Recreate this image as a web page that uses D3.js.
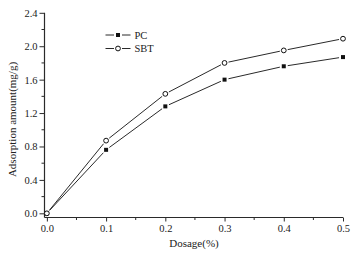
<!DOCTYPE html>
<html><head><meta charset="utf-8">
<script src="https://cdn.jsdelivr.net/npm/d3@7"></script>
<style>body{margin:0;background:#fff}svg{display:block}text{font-family:"Liberation Serif","Times New Roman",serif;fill:#222}</style>
</head><body><svg id="c" width="361" height="258"></svg>
<script>
const dosage = [0, 0.1, 0.2, 0.3, 0.4, 0.5];
const pcValues = [0, 0.76, 1.28, 1.60, 1.76, 1.87];
const sbtValues = [0, 0.87, 1.43, 1.80, 1.95, 2.09];
const xTicks = [0, 0.1, 0.2, 0.3, 0.4, 0.5];
const yTicks = [0, 0.4, 0.8, 1.2, 1.6, 2.0, 2.4];
const xMinor = [0.05, 0.15, 0.25, 0.35, 0.45];
const yMinor = [0.2, 0.6, 1.0, 1.4, 1.8, 2.2];
const seriesNames = ["PC", "SBT"];

const svg = d3.select("#c");
const x = d3.scaleLinear().domain([-0.004, 0.5]).range([44.5, 343]);
const y = d3.scaleLinear().domain([-0.05, 2.4]).range([217.5, 12.8]);
const col = "#2a2a2a";

// axes
const gx = svg.append("g").attr("transform", "translate(0,217.5)")
  .call(d3.axisBottom(x).tickValues(xTicks).tickFormat(d3.format(".1f")).tickSize(4).tickPadding(3).tickSizeOuter(0));
gx.append("g").selectAll("line").data(xMinor).join("line")
  .attr("x1", d => x(d)).attr("x2", d => x(d)).attr("y1", 0).attr("y2", 2.5).attr("stroke", col);
const gy = svg.append("g").attr("transform", "translate(44.5,0)")
  .call(d3.axisLeft(y).tickValues(yTicks).tickFormat(d3.format(".1f")).tickSize(5).tickPadding(2).tickSizeOuter(0));
gy.append("g").selectAll("line").data(yMinor).join("line")
  .attr("y1", d => y(d)).attr("y2", d => y(d)).attr("x1", 0).attr("x2", -3).attr("stroke", col);
svg.selectAll(".domain").attr("stroke", col).attr("stroke-width", 1.2);
svg.selectAll(".tick line").attr("stroke", col);
svg.selectAll(".tick text").style("font-size", "10.5px").style("font-family", '"Liberation Serif",serif').attr("fill", "#222");
// fix x domain line to extend to the y axis
gx.select(".domain").attr("d", `M${44.5},0H${x(0.5)}`);
gy.select(".domain").attr("d", `M0,${217.5}V${y(2.4)}`);

// lines with gaps near markers
function drawSeries(vals, marker) {
  const pts = dosage.map((d, i) => [x(d), y(vals[i])]);
  const gap = 4;
  for (let i = 0; i < pts.length - 1; i++) {
    const [x1, y1] = pts[i], [x2, y2] = pts[i + 1];
    const len = Math.hypot(x2 - x1, y2 - y1);
    const ux = (x2 - x1) / len, uy = (y2 - y1) / len;
    svg.append("line").attr("x1", x1 + ux * gap).attr("y1", y1 + uy * gap)
      .attr("x2", x2 - ux * gap).attr("y2", y2 - uy * gap)
      .attr("stroke", col).attr("stroke-width", 1);
  }
  pts.forEach(p => marker(svg, p[0], p[1]));
}
const square = (g, cx, cy) => g.append("rect").attr("x", cx - 2).attr("y", cy - 2).attr("width", 4).attr("height", 4).attr("fill", "#111");
const circle = (g, cx, cy) => g.append("circle").attr("cx", cx).attr("cy", cy).attr("r", 2.4).attr("fill", "#fff").attr("stroke", "#111").attr("stroke-width", 1);

drawSeries(pcValues, square);
drawSeries(sbtValues, circle);

// legend
const lg = svg.append("g");
[[seriesNames[0], square, 35], [seriesNames[1], circle, 48.5]].forEach(([name, m, ly]) => {
  lg.append("line").attr("x1", 105.5).attr("x2", 114).attr("y1", ly).attr("y2", ly).attr("stroke", col);
  lg.append("line").attr("x1", 122).attr("x2", 130.5).attr("y1", ly).attr("y2", ly).attr("stroke", col);
  m(lg, 118, ly);
  lg.append("text").attr("x", 134.5).attr("y", ly + 3.5).style("font-size", "10.5px").text(name);
});

// axis titles
svg.append("text").attr("x", 194).attr("y", 247).attr("text-anchor", "middle").style("font-size", "11px").text("Dosage(%)");
svg.append("text").attr("transform", "translate(16,119.5) rotate(-90)").attr("text-anchor", "middle").style("font-size", "11px").text("Adsorption amount(mg/g)");
</script></body></html>
